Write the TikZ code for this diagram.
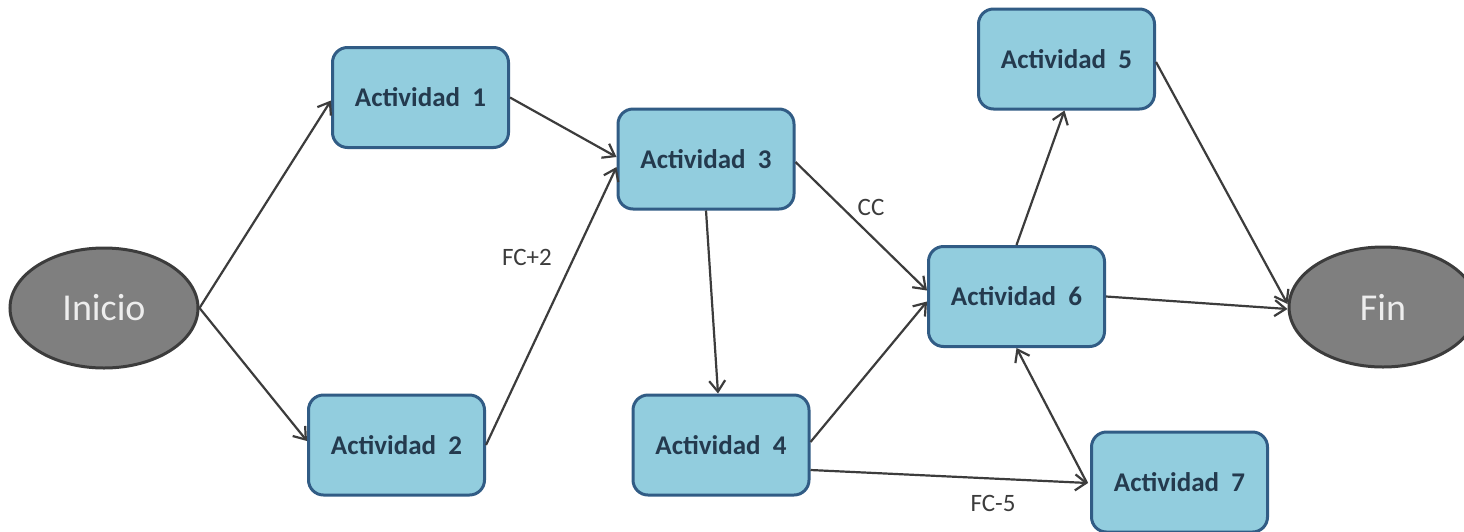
\documentclass[tikz,border=0pt]{standalone}
\usepackage{fontspec}
\setmainfont{Carlito}
\usetikzlibrary{shapes.geometric,arrows.meta,calc}
\definecolor{boxfill}{RGB}{146,205,222}
\definecolor{boxline}{RGB}{49,92,133}
\definecolor{boxtext}{RGB}{36,58,78}
\definecolor{ovalfill}{RGB}{127,127,127}
\definecolor{ovalline}{RGB}{60,60,60}
\definecolor{linkcol}{RGB}{60,60,60}
\begin{document}
\begin{tikzpicture}[x=1pt,y=-1pt,
  actbox/.style={draw=boxline,fill=boxfill,line width=3pt,rounded corners=15pt,
    minimum width=176pt,minimum height=100pt,text=boxtext,
    font=\fontsize{27}{30}\selectfont\bfseries},
  endoval/.style={ellipse,draw=ovalline,fill=ovalfill,line width=3pt,
    minimum width=188pt,minimum height=120pt,inner sep=0pt,text=white!93!black,
    font=\fontsize{38}{42}\selectfont},
  link/.style={draw=linkcol,line width=2.2pt,
    -{Straight Barb[length=11pt,width=16pt,line width=2.2pt]}},
  lbl/.style={text=linkcol,font=\fontsize{25}{28}\selectfont}]
  \useasboundingbox (0,0) rectangle (1464,531);
  \fill[white] (0,0) rectangle (1464,531);

  % start and end events
  \node[endoval] (ini) at (104,308) {Inicio};
  \node[endoval] (fin) at (1383,307) {Fin};

  % activities
  \node[actbox] (a1) at (420.5,97.5) {Actividad\ \ 1};
  \node[actbox] (a2) at (396.5,445) {Actividad\ \ 2};
  \node[actbox] (a3) at (706,159) {Actividad\ \ 3};
  \node[actbox] (a4) at (721,445) {Actividad\ \ 4};
  \node[actbox] (a5) at (1066.5,59) {Actividad\ \ 5};
  \node[actbox] (a6) at (1016.5,296.5) {Actividad\ \ 6};
  \node[actbox] (a7) at (1179.5,482) {Actividad\ \ 7};

  % dependencies
  \draw[link] (ini.east) -- ($(a1.west)+(0,3)$);
  \draw[link] (ini.east) -- ($(a2.west)+(0,-4)$);
  \draw[link] (a1.east) -- ($(a3.west)+(0,-2)$);
  \draw[link] (a2.east) -- ($(a3.west)+(0,8)$);
  \draw[link] (a3.south) -- ($(a4.north)+(-3,0)$);
  \draw[link] ($(a3.east)+(0,3)$) -- ($(a6.west)+(0,-6)$);
  \draw[link] ($(a4.east)+(0,-3)$) -- ($(a6.west)+(0,5)$);
  \draw[link] ($(a4.east)+(0,25)$) -- ($(a7.west)+(-2,1)$);
  \draw[link] ($(a7.west)+(-3,1)$) -- (a6.south);
  \draw[link] (a6.north) -- ($(a5.south)+(-2,0)$);
  \draw[link] ($(a5.east)+(0,3)$) -- ($(fin.west)+(0,-3)$);
  \draw[link] (a6.east) -- ($(fin.west)+(0,2)$);

  % lag labels
  \node[lbl] (l1) at (527,257) {FC+2};
  \node[lbl] (l2) at (871,207) {CC};
  \node[lbl] (l3) at (993,503) {FC-5};
\end{tikzpicture}
\end{document}
